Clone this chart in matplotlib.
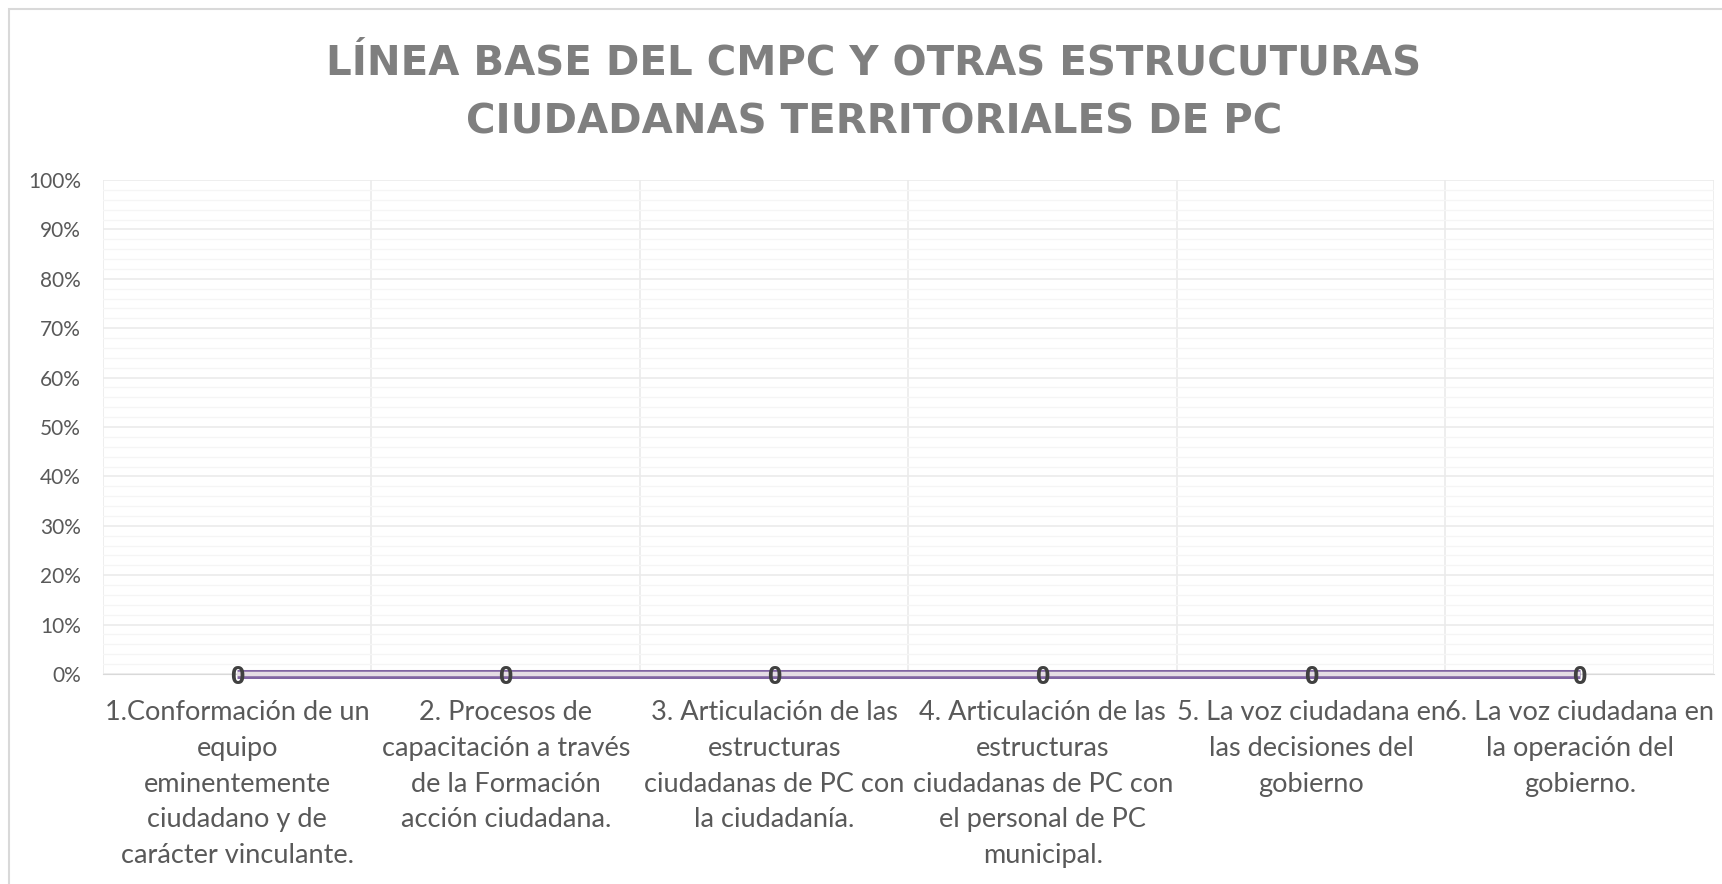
"""Line chart: linea base del CMPC y otras estructuras ciudadanas."""

from matplotlib import pyplot as plt
from matplotlib import patheffects as pe
from matplotlib.patches import Rectangle
from matplotlib.ticker import MultipleLocator, PercentFormatter

categorias = [
    "1.Conformación de un\nequipo\neminentemente\nciudadano y de\ncarácter vinculante.",
    "2. Procesos de\ncapacitación a través\nde la Formación\nacción ciudadana.",
    "3. Articulación de las\nestructuras\nciudadanas de PC con\nla ciudadanía.",
    "4. Articulación de las\nestructuras\nciudadanas de PC con\nel personal de PC\nmunicipal.",
    "5. La voz ciudadana en\nlas decisiones del\ngobierno",
    "6. La voz ciudadana en\nla operación del\ngobierno.",
]
linea_base = [0, 0, 0, 0, 0, 0]
titulo = "LÍNEA BASE DEL CMPC Y OTRAS ESTRUCUTURAS\nCIUDADANAS TERRITORIALES DE PC"

W, H = 1722, 884
fig = plt.figure(figsize=(W / 100, H / 100), dpi=100)
plt.rcParams['font.family'] = ['Lato', 'DejaVu Sans']

# plot area in pixels: left 103, right 1714, top 180, bottom 674
ax = fig.add_axes([103 / W, 1 - 674 / H, (1714 - 103) / W, (674 - 180) / H])

x = list(range(len(categorias)))
ax.plot(x, linea_base, color='#E4DCE4', linewidth=3.2, zorder=3,
        solid_capstyle='butt', clip_on=False,
        path_effects=[pe.Stroke(linewidth=6.5, foreground='#8064A2'), pe.Normal()])
for xi, v in zip(x, linea_base):
    ax.text(xi, v, f"{v}", ha='center', va='center_baseline', fontsize=18,
            fontweight='bold', color='#404040', zorder=5, family='Open Sans')

ax.set_xlim(-0.5, len(categorias) - 0.5)
ax.set_ylim(0, 1)
ax.yaxis.set_major_locator(MultipleLocator(0.1))
ax.yaxis.set_minor_locator(MultipleLocator(0.02))
ax.yaxis.set_major_formatter(PercentFormatter(1.0, decimals=0))
ax.set_xticks(x)
ax.set_xticklabels(categorias, fontsize=19.5, color='#595959', linespacing=1.53)
ax.set_xticks([i + 0.5 for i in range(-1, len(categorias))], minor=True)

ax.tick_params(axis='y', which='both', length=0, labelsize=15, labelcolor='#595959', pad=16)
ax.tick_params(axis='x', which='both', length=0, pad=19)

ax.grid(axis='y', which='major', color='#EBEBEB', linewidth=1.2)
ax.grid(axis='y', which='minor', color='#F5F5F5', linewidth=1.0)
ax.grid(axis='x', which='minor', color='#EBEBEB', linewidth=1.2)
for side in ['top', 'right', 'left']:
    ax.spines[side].set_visible(False)
ax.spines['bottom'].set_color('#D9D9D9')
ax.set_axisbelow(True)

fig.text(0.5075, 1 - 93 / H, titulo, ha='center', va='center', fontsize=29,
         fontweight='bold', color='#7F7F7F', linespacing=1.64, family='DejaVu Sans')

# chart border (cut off at right and bottom)
fig.patches.append(Rectangle((9 / W, -0.05), 1.2, 1 - 9 / H + 0.05,
                             transform=fig.transFigure, fill=False,
                             edgecolor='#D9D9D9', linewidth=1.5))

fig.savefig('out.png', dpi=100)
